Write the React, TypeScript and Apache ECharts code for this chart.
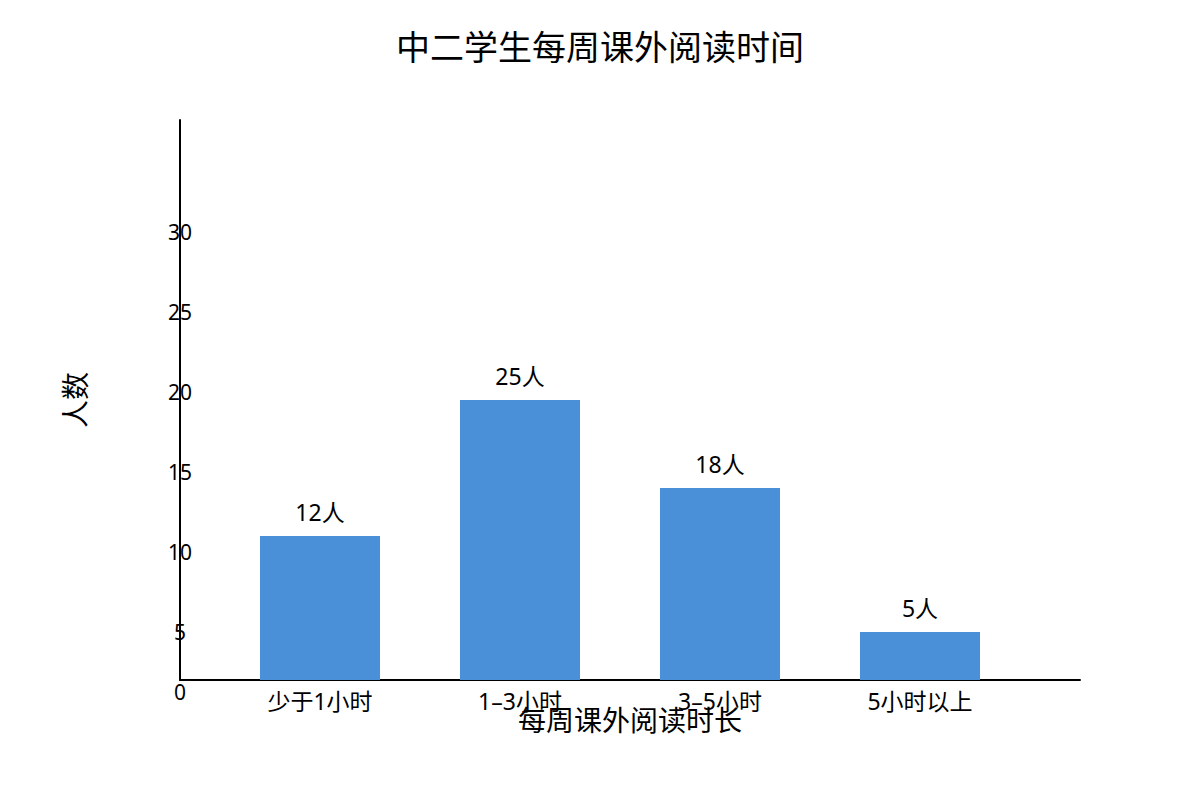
import { useEffect, useRef } from "react";
import * as echarts from "echarts";

const categories = ["少于1小时", "1–3小时", "3–5小时", "5小时以上"];
const counts = [12, 25, 18, 5];
// bar heights as drawn in the picture, in axis units (the picture's bars do not match the tick labels)
const barHeights = [9, 17.5, 12, 3];
// where each tick label sits on the axis, and its text
const tickPositions = [0, 3, 8, 13, 18, 23, 28];
const tickTexts = ["0", "5", "10", "15", "20", "25", "30"];

const FONT = "'Noto Sans', 'Noto Sans CJK SC', sans-serif";
const BAR_COLOR = "#4a90d9";

export default function App() {
  const ref = useRef<HTMLDivElement>(null);

  useEffect(() => {
    document.body.style.margin = "0";
    if (!ref.current) return;
    const chart = echarts.init(ref.current, null, { renderer: "svg" });
    chart.setOption({
      animation: false,
      textStyle: { fontFamily: FONT, color: "#000" },
      title: {
        text: "中二学生每周课外阅读时间",
        left: "center", top: 30, padding: 0,
        textStyle: { fontFamily: FONT, fontSize: 34, fontWeight: "normal", color: "#000" },
      },
      grid: [
        { left: 180, right: 120, top: 120, bottom: 120 },
        { left: 220, right: 180, top: 120, bottom: 120 },
      ],
      xAxis: [
        {
          type: "value", gridIndex: 0, min: 0, max: 1,
          axisLine: { show: true, lineStyle: { color: "#000", width: 2 } },
          axisTick: { show: false }, axisLabel: { show: false }, splitLine: { show: false },
          name: "每周课外阅读时长", nameLocation: "middle", nameGap: 26,
          nameTextStyle: { fontFamily: FONT, fontSize: 28, color: "#000" },
        },
        {
          type: "category", gridIndex: 1, data: categories,
          axisLine: { show: false }, axisTick: { show: false },
          axisLabel: { fontFamily: FONT, fontSize: 23, color: "#000", margin: 9, interval: 0 },
        },
      ],
      yAxis: [
        {
          type: "value", gridIndex: 0, min: 0, max: 35, interval: 1,
          axisLine: { show: true, lineStyle: { color: "#000", width: 2 } },
          axisTick: { show: false }, splitLine: { show: false },
          axisLabel: {
            margin: 0, align: "center", fontFamily: FONT, fontSize: 21, color: "#000",
            formatter: (v: number) => {
              const i = tickPositions.indexOf(v);
              if (i < 0) return "";
              return v === 0 ? "{z|" + tickTexts[i] + "}" : tickTexts[i];
            },
            rich: { z: { fontFamily: FONT, fontSize: 21, color: "#000", padding: [24, 0, 0, 0] } },
          },
          name: "人数", nameLocation: "middle", nameRotate: 90, nameGap: 91,
          nameTextStyle: { fontFamily: FONT, fontSize: 28, color: "#000" },
        },
        { type: "value", gridIndex: 1, min: 0, max: 35, show: false },
      ],
      series: [
        {
          type: "bar", xAxisIndex: 1, yAxisIndex: 1, barWidth: 120,
          itemStyle: { color: BAR_COLOR },
          data: barHeights,
          label: {
            show: true, position: "top", distance: 13,
            fontFamily: FONT, fontSize: 23, color: "#000",
            formatter: (p: any) => counts[p.dataIndex] + "人",
          },
        },
      ],
    });
    return () => chart.dispose();
  }, []);

  return <div ref={ref} style={{ width: 1200, height: 800 }} />;
}
